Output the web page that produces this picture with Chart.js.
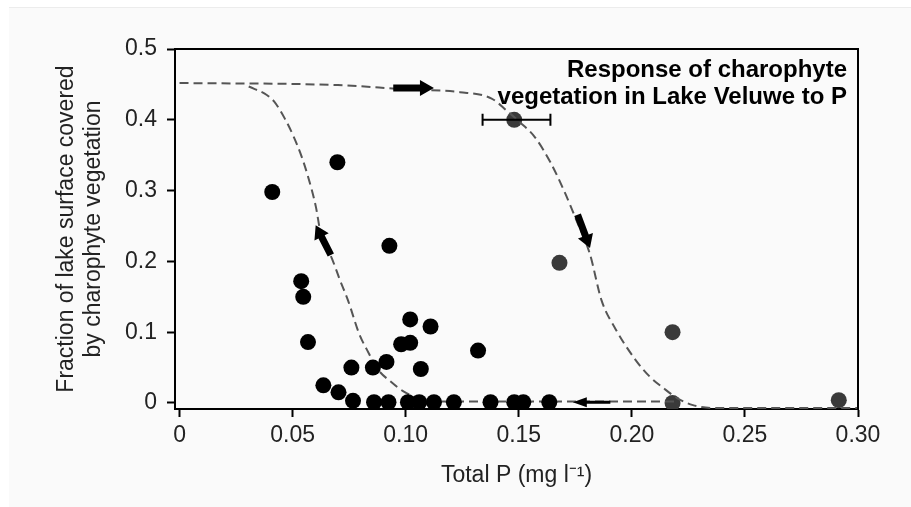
<!DOCTYPE html>
<html>
<head>
<meta charset="utf-8">
<script src="https://cdn.jsdelivr.net/npm/chart.js@4.4.0/dist/chart.umd.min.js"></script>
<style>
  html, body { margin: 0; padding: 0; background: #fff; }
  #wrap { width: 911px; height: 507px; }
</style>
</head>
<body>
<div id="wrap"><canvas id="myChart" width="911" height="507"></canvas></div>
<script>
    /* Data */

var blackX = [0.041, 0.0698, 0.0928, 0.0538, 0.0547, 0.0568, 0.102, 0.111, 0.098, 0.102, 0.132, 0.0915, 0.076, 0.0855, 0.1067, 0.0636, 0.0703,
              0.0767, 0.086, 0.0924, 0.101, 0.106, 0.1125, 0.1213, 0.1375, 0.148, 0.152, 0.1635];
var blackY = [0.298, 0.340, 0.222, 0.172, 0.150, 0.086, 0.118, 0.108, 0.083, 0.085, 0.074, 0.058, 0.050, 0.050, 0.048, 0.025, 0.015,
              0.003, 0.001, 0.001, 0.001, 0.001, 0.001, 0.001, 0.001, 0.001, 0.001, 0.001];

var grayX = [0.148, 0.168, 0.218, 0.218, 0.2915];
var grayY = [0.400, 0.198, 0.100, 0.000, 0.004];

// horizontal error bar on the first gray point
var errLow = [0.134];
var errHigh = [0.164];

// upper (forward) branch of the hysteresis curve
var upperX = [0, 0.07, 0.10, 0.124, 0.138, 0.145, 0.150, 0.157, 0.164, 0.170, 0.1755, 0.1814, 0.1866, 0.1927, 0.2016, 0.208, 0.214, 0.220, 0.227, 0.236, 0.30];
var upperY = [0.452, 0.449, 0.443, 0.439, 0.430, 0.412, 0.398, 0.376, 0.340, 0.300, 0.258, 0.211, 0.145, 0.105, 0.061, 0.037, 0.021, 0.007, -0.003, -0.007, -0.007];

// lower (backward) branch
var lowerX = [0.0306, 0.0386, 0.0418, 0.0465, 0.0505, 0.054, 0.0568, 0.0603, 0.0624, 0.0674, 0.0709, 0.0745, 0.0794, 0.0829, 0.0878, 0.0935, 0.0992, 0.1075, 0.116, 0.22];
var lowerY = [0.447, 0.435, 0.426, 0.402, 0.376, 0.348, 0.320, 0.277, 0.240, 0.204, 0.174, 0.145, 0.098, 0.075, 0.047, 0.030, 0.016, 0.005, 0.002, 0.002];

// arrows along the curves: tail -> tip
var arrowTailX = [0.0945, 0.1760, 0.0669, 0.1905];
var arrowTailY = [0.445, 0.266, 0.209, 0.001];
var arrowTipX = [0.1125, 0.1815, 0.0602, 0.1739];
var arrowTipY = [0.445, 0.219, 0.251, 0.001];

var xTicks = [0, 0.05, 0.10, 0.15, 0.20, 0.25, 0.30];
var yTicks = [0, 0.1, 0.2, 0.3, 0.4, 0.5];

var titleLines = ["Response of charophyte", "vegetation in Lake Veluwe to P"];

    /* Helpers */

function pts(xs, ys) {
    return xs.map(function (x, i) { return { x: x, y: ys[i] }; });
}

var FONT = "'Liberation Sans', Arial, Helvetica, sans-serif";

function drawArrow(ctx, x1, y1, x2, y2, w, h, len) {
    var dx = x2 - x1, dy = y2 - y1;
    var d = Math.sqrt(dx * dx + dy * dy);
    dx /= d; dy /= d;
    var nx = -dy, ny = dx;
    var bx = x2 - dx * len, by = y2 - dy * len;
    ctx.beginPath();
    ctx.moveTo(x1 + nx * w, y1 + ny * w);
    ctx.lineTo(bx + nx * w, by + ny * w);
    ctx.lineTo(bx + nx * h, by + ny * h);
    ctx.lineTo(x2, y2);
    ctx.lineTo(bx - nx * h, by - ny * h);
    ctx.lineTo(bx - nx * w, by - ny * w);
    ctx.lineTo(x1 - nx * w, y1 - ny * w);
    ctx.closePath();
    ctx.fill();
}

    /* Plugins */

const backdrop = {
    id: 'backdrop',
    beforeDraw(chart) {
        const ctx = chart.ctx;
        ctx.save();
        ctx.fillStyle = '#ffffff';
        ctx.fillRect(0, 0, chart.width, chart.height);
        ctx.fillStyle = '#fafafa';
        ctx.fillRect(9, 7, chart.width - 9, chart.height - 7);
        ctx.fillStyle = '#ececec';
        ctx.fillRect(9, 7, chart.width - 9, 1);
        ctx.restore();
    }
};

const extras = {
    id: 'extras',
    afterDatasetsDraw(chart) {
        const ctx = chart.ctx;
        const xs = chart.scales.x, ys = chart.scales.y;
        const a = chart.chartArea;
        ctx.save();

        // top and right frame
        ctx.strokeStyle = '#000';
        ctx.lineWidth = 2;
        ctx.beginPath();
        ctx.moveTo(a.left, a.top);
        ctx.lineTo(a.right, a.top);
        ctx.lineTo(a.right, a.bottom);
        ctx.stroke();

        // error bar
        ctx.lineWidth = 2;
        errLow.forEach(function (lo, i) {
            var py = ys.getPixelForValue(grayY[i]);
            var p1 = xs.getPixelForValue(lo), p2 = xs.getPixelForValue(errHigh[i]);
            ctx.beginPath();
            ctx.moveTo(p1, py); ctx.lineTo(p2, py);
            ctx.moveTo(p1, py - 6); ctx.lineTo(p1, py + 6);
            ctx.moveTo(p2, py - 6); ctx.lineTo(p2, py + 6);
            ctx.stroke();
        });

        // arrows
        ctx.fillStyle = '#000';
        var shaft = [3.5, 3.5, 3.5, 1.5];
        var head = [8, 8, 8, 5];
        var hlen = [14, 13, 13, 14];
        arrowTailX.forEach(function (tx, i) {
            drawArrow(ctx,
                xs.getPixelForValue(tx), ys.getPixelForValue(arrowTailY[i]),
                xs.getPixelForValue(arrowTipX[i]), ys.getPixelForValue(arrowTipY[i]),
                shaft[i], head[i], hlen[i]);
        });

        // title inside the plot
        ctx.fillStyle = '#000';
        ctx.font = 'bold 24px ' + FONT;
        ctx.textAlign = 'right';
        ctx.textBaseline = 'alphabetic';
        titleLines.forEach(function (t, i) {
            ctx.fillText(t, a.right - 11, a.top + 28 + i * 27);
        });
        ctx.restore();
    }
};

    /* Chart */

const ctx = document.getElementById('myChart').getContext('2d');

const myChart = new Chart(ctx, {
    type: 'scatter',
    data: {
        datasets: [
            {
                data: pts(blackX, blackY),
                backgroundColor: '#000',
                borderWidth: 0,
                pointRadius: 8,
                order: 0
            },
            {
                type: 'line',
                data: pts(upperX, upperY),
                borderColor: '#555',
                borderWidth: 2,
                borderDash: [9, 5],
                pointRadius: 0,
                fill: false,
                cubicInterpolationMode: 'monotone',
                order: 1
            },
            {
                type: 'line',
                data: pts(lowerX, lowerY),
                borderColor: '#555',
                borderWidth: 2,
                borderDash: [9, 5],
                pointRadius: 0,
                fill: false,
                cubicInterpolationMode: 'monotone',
                order: 1
            },
            {
                data: pts(grayX, grayY),
                backgroundColor: '#3a3a3a',
                borderWidth: 0,
                pointRadius: 8,
                order: 2
            }
        ]
    },
    options: {
        responsive: false,
        animation: false,
        devicePixelRatio: 1,
        layout: { padding: { left: 0, top: 49, right: 53, bottom: 0 } },
        plugins: {
            legend: { display: false },
            tooltip: { enabled: false }
        },
        scales: {
            x: {
                type: 'linear',
                min: -0.002,
                max: 0.30,
                afterBuildTicks: function (s) { s.ticks = xTicks.map(function (v) { return { value: v }; }); },
                afterFit: function (s) { s.height = 98; },
                grid: { drawOnChartArea: false, color: '#000', tickLength: 8, tickWidth: 2 },
                border: { color: '#000', width: 2 },
                ticks: {
                    color: '#222',
                    padding: 5,
                    maxRotation: 0,
                    font: { family: FONT, size: 23 },
                    callback: function (v) { return v === 0 ? '0' : v.toFixed(2); }
                },
                title: {
                    display: true,
                    text: 'Total P (mg l\u207B\u00B9)',
                    color: '#222',
                    font: { family: FONT, size: 23 },
                    padding: { top: 0, bottom: 18 }
                }
            },
            y: {
                type: 'linear',
                min: -0.0085,
                max: 0.5,
                afterBuildTicks: function (s) { s.ticks = yTicks.map(function (v) { return { value: v }; }); },
                afterFit: function (s) { s.width = 175; },
                grid: { drawOnChartArea: false, color: '#000', tickLength: 8, tickWidth: 2 },
                border: { color: '#000', width: 2 },
                ticks: {
                    color: '#222',
                    padding: 10,
                    font: { family: FONT, size: 23 },
                    callback: function (v) { return v === 0 ? '0' : v.toFixed(1); }
                },
                title: {
                    display: true,
                    text: ['Fraction of lake surface covered', 'by charophyte vegetation'],
                    color: '#222',
                    font: { family: FONT, size: 23, lineHeight: '27px' },
                    padding: { top: 53, bottom: 0 }
                }
            }
        }
    },
    plugins: [backdrop, extras]
});
</script>
</body>
</html>
